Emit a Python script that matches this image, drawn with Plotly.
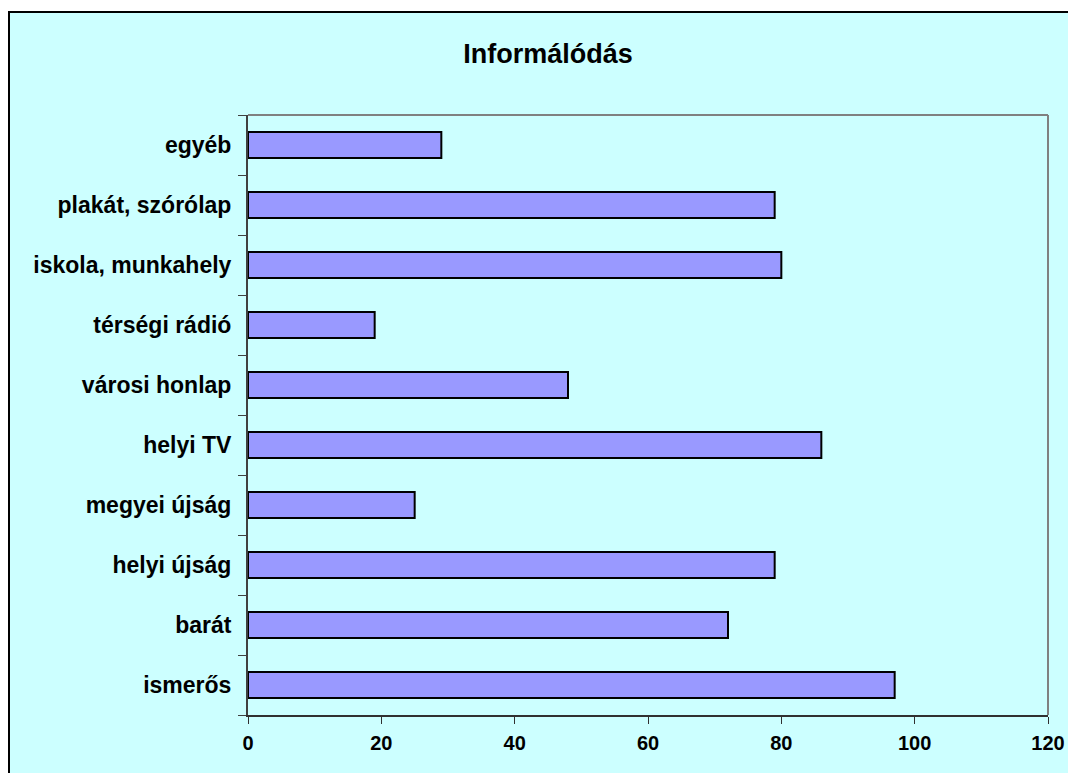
import plotly.graph_objects as go

categories = ["ismerős", "barát", "helyi újság", "megyei újság", "helyi TV",
              "városi honlap", "térségi rádió", "iskola, munkahely",
              "plakát, szórólap", "egyéb"]
values = [97, 72, 79, 25, 86, 48, 19, 80, 79, 29]
x_ticks = [0, 20, 40, 60, 80, 100, 120]

FONT = "Liberation Sans, Arial, sans-serif"

# page body has an 8px margin; figure sized to fill the rest of the window
W, H = 1068, 765
L, R, T, B = 240, 28, 107, 58
PW, PH = W - L - R, H - T - B

fig = go.Figure(go.Bar(
    x=values, y=categories, orientation="h",
    width=0.43,
    marker=dict(color="#9999FF", line=dict(color="black", width=2)),
))

fig.update_layout(
    width=W, height=H,
    paper_bgcolor="white", plot_bgcolor="#CCFFFF",
    margin=dict(l=L, r=R, t=T, b=B),
    title=dict(text="<b>Informálódás</b>", x=540 / W, xanchor="center",
               y=1 - 46 / H, yanchor="middle",
               font=dict(family=FONT, size=27, color="black")),
    font=dict(family=FONT, size=20, color="black"),
    showlegend=False,
)

fig.update_xaxes(range=[0, 120], tickvals=x_ticks,
                 ticktext=[f"<b>{v}</b>" for v in x_ticks],
                 showgrid=False, zeroline=False,
                 showline=True, linecolor="#303030", linewidth=2,
                 ticks="outside", ticklen=7, tickcolor="#303030", tickwidth=1,
                 tickfont=dict(family=FONT, size=20, color="black"),
                 ticklabelstandoff=2)
fig.update_yaxes(categoryorder="array", categoryarray=categories,
                 tickvals=categories,
                 ticktext=[f"<b>{c}</b>" for c in categories],
                 showgrid=False, zeroline=False,
                 showline=True, linecolor="#404040", linewidth=2,
                 ticks="outside", ticklen=8, tickcolor="#404040", tickwidth=1,
                 tickson="boundaries",
                 tickfont=dict(family=FONT, size=23, color="black"),
                 ticklabelstandoff=10)

# cyan chart area with black frame (extends past right/bottom edge)
fig.add_shape(type="rect", xref="paper", yref="paper",
              x0=(1 - L) / PW, x1=1 + (R + 60) / PW,
              y0=-(B + 60) / PH, y1=1 + (T - 4) / PH,
              line=dict(color="black", width=2), fillcolor="#CCFFFF",
              layer="below")

# top and right border of the plot area (gray)
fig.add_shape(type="line", xref="paper", yref="paper", x0=0, x1=1, y0=1, y1=1,
              line=dict(color="#808080", width=2))
fig.add_shape(type="line", xref="paper", yref="paper", x0=1, x1=1, y0=0, y1=1,
              line=dict(color="#808080", width=2))

fig.write_html("out.html")
